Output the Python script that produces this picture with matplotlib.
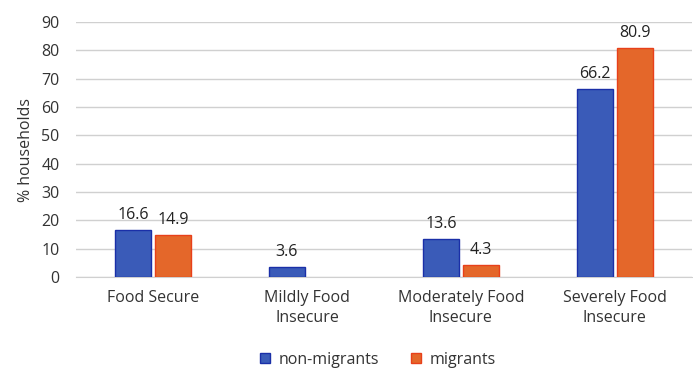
import matplotlib
matplotlib.use("Agg")
import matplotlib.pyplot as plt
import numpy as np

categories = ["Food Secure", "Mildly Food\nInsecure", "Moderately Food\nInsecure", "Severely Food\nInsecure"]
non_migrants = [16.6, 3.6, 13.6, 66.2]
migrants = [14.9, None, 4.3, 80.9]
yticks = list(range(0, 100, 10))

plt.rcParams['font.family'] = ['Open Sans', 'DejaVu Sans']

fig = plt.figure(figsize=(6.93, 3.72), dpi=100)
ax = fig.add_axes([0.110, 0.255, 0.888, 0.686])

x = np.arange(len(categories))
w = 0.235
off = 0.13
blue = "#3A5BB8"
orange = "#E4672A"
fs = 11.5

nm_idx = [i for i, v in enumerate(non_migrants) if v is not None]
m_idx = [i for i, v in enumerate(migrants) if v is not None]
b1 = ax.bar(x[nm_idx] - off, [non_migrants[i] for i in nm_idx], w, color=blue,
            edgecolor="#1A2FA8", linewidth=1, label="non-migrants", zorder=3)
b2 = ax.bar(x[m_idx] + off, [migrants[i] for i in m_idx], w, color=orange,
            edgecolor="#E8401A", linewidth=1, label="migrants", zorder=3)

for i in nm_idx:
    v = non_migrants[i]
    ax.annotate(f"{v}", (x[i] - off, v), xytext=(0, 5), textcoords="offset points",
                ha="center", va="bottom", fontsize=fs, color="#222222")
for i in m_idx:
    v = migrants[i]
    ax.annotate(f"{v}", (x[i] + off, v), xytext=(0, 5), textcoords="offset points",
                ha="center", va="bottom", fontsize=fs, color="#222222")

ax.set_xlim(-0.5, len(categories) - 0.5)
ax.set_ylim(0, 90)
ax.set_yticks(yticks)
ax.set_xticks(x)
ax.set_xticklabels(categories, fontsize=fs, color="#333333", linespacing=1.4)
ax.tick_params(axis="y", labelsize=fs, colors="#333333", length=0, pad=12)
ax.tick_params(axis="x", length=0, pad=9)
ax.yaxis.grid(True, color="#D0D0D0", linewidth=1, zorder=0)
for s in ["top", "right", "left"]:
    ax.spines[s].set_visible(False)
ax.spines["bottom"].set_color("#D0D0D0")
ax.set_ylabel("% households", fontsize=fs, color="#333333", labelpad=5)

leg = fig.legend(handles=[b1, b2], labels=["non-migrants", "migrants"], loc="center",
                 bbox_to_anchor=(0.545, 0.033), ncol=2, frameon=False, fontsize=fs,
                 handlelength=0.65, handleheight=0.65, columnspacing=2.0, handletextpad=0.5)
for t in leg.get_texts():
    t.set_color("#333333")

fig.savefig("out.png", dpi=100)
